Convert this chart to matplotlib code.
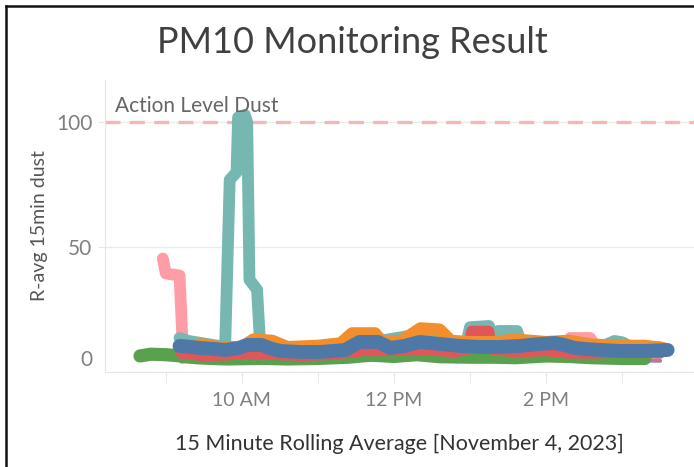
import numpy as np
import matplotlib.pyplot as plt
from matplotlib.lines import Line2D
from matplotlib.transforms import ScaledTranslation

# time in hours of the day, values in R-avg 15min dust
purple_t = [9.2, 9.6, 10.0, 10.5, 11.0, 11.5, 12.0, 12.5, 13.0, 13.5, 14.0, 14.5, 15.0, 15.5]
purple_v = [4.3, 4.5, 4.6, 4.4, 4.6, 5.0, 5.6, 5.2, 5.0, 4.8, 5.0, 4.6, 4.8, 4.6]

yellow_t = [9.2, 9.6, 10.0, 10.5, 11.0, 11.5, 12.0, 12.3, 12.6, 13.0, 13.5, 14.0, 14.5, 15.0, 15.5]
yellow_v = [5.5, 5.6, 5.8, 5.6, 6.0, 6.5, 7.5, 8.5, 7.2, 7.0, 6.8, 7.0, 6.6, 6.5, 6.4]

green_t = [8.66, 8.8, 9.0, 9.2, 9.4, 9.6, 9.8, 10.0, 10.3, 10.6, 11.0, 11.4, 11.7, 12.0,
           12.3, 12.6, 13.0, 13.3, 13.6, 14.0, 14.3, 14.6, 15.0, 15.3]
green_v = [6.5, 7.2, 7.0, 6.5, 5.8, 5.5, 5.3, 5.4, 5.5, 5.3, 5.5, 6.0, 6.8, 6.3,
           7.0, 6.2, 6.0, 6.0, 5.8, 6.5, 6.3, 5.8, 5.5, 5.5]

pink_t = [8.96, 9.0, 9.18, 9.22, 9.4, 9.7, 10.0, 10.5, 11.0, 11.5, 12.0, 12.5, 13.0, 13.5,
          14.0, 14.25, 14.32, 14.58, 14.65, 15.0, 15.5]
pink_v = [45.5, 39.5, 38.7, 12.0, 10.0, 8.5, 9.0, 8.5, 8.5, 9.5, 9.5, 10.0, 10.0, 10.0,
          10.5, 10.5, 13.7, 13.7, 10.5, 9.0, 9.0]

teal_t = [9.18, 9.3, 9.5, 9.7, 9.78, 9.84, 9.93, 9.95, 10.04, 10.07, 10.1, 10.2, 10.24,
          10.4, 10.7, 11.0, 11.3, 11.6, 11.9, 12.2, 12.5, 12.8, 12.95, 13.0, 13.25, 13.3,
          13.37, 13.62, 13.68, 14.0, 14.5, 14.75, 14.9, 15.0, 15.1, 15.5]
teal_v = [13.7, 12.5, 11.5, 10.5, 10.0, 77.0, 80.0, 102.0, 103.0, 100.0, 37.0, 33.0, 11.0,
          10.5, 9.5, 9.5, 10.5, 11.0, 13.0, 14.5, 13.0, 11.0, 11.0, 18.0, 18.5, 14.0,
          16.5, 16.5, 11.0, 10.5, 10.0, 10.5, 12.5, 12.0, 10.5, 10.0]

red_t = [9.2, 9.5, 9.8, 10.1, 10.4, 10.8, 11.2, 11.6, 12.0, 12.4, 12.8, 12.97, 13.02,
         13.25, 13.3, 13.6, 14.0, 14.3, 14.7, 15.0, 15.5]
red_v = [7.5, 6.5, 6.8, 7.5, 7.0, 6.5, 7.0, 8.5, 8.5, 9.0, 8.0, 9.0, 16.5,
         16.5, 9.0, 8.0, 8.5, 7.5, 7.5, 8.0, 7.5]

orange_t = [9.2, 9.5, 9.7, 10.0, 10.15, 10.4, 10.6, 11.0, 11.3, 11.45, 11.75, 11.85, 12.1,
            12.35, 12.6, 12.75, 13.0, 13.3, 13.6, 14.0, 14.3, 14.6, 15.0, 15.3, 15.55]
orange_v = [10.5, 11.0, 10.0, 10.0, 13.0, 12.5, 10.0, 10.5, 11.5, 15.5, 15.5, 12.0, 12.5,
            17.5, 17.0, 12.5, 12.0, 12.0, 13.0, 12.0, 12.5, 11.0, 10.5, 10.5, 9.5]

blue_t = [9.18, 9.3, 9.45, 9.6, 9.78, 9.95, 10.07, 10.26, 10.38, 10.5, 10.76, 11.03, 11.2,
          11.36, 11.45, 11.55, 11.79, 11.88, 11.95, 12.14, 12.34, 12.6, 12.87, 13.13, 13.39,
          13.66, 13.82, 13.92, 14.12, 14.25, 14.38, 14.55, 14.71, 14.97, 15.3, 15.6]
blue_v = [10.5, 10.2, 9.7, 9.4, 8.9, 9.6, 10.9, 10.9, 9.5, 8.5, 8.1, 8.1, 8.5,
          8.9, 10.5, 12.1, 12.1, 10.8, 9.7, 10.5, 12.1, 11.3, 10.5, 10.1, 10.1,
          10.5, 11.0, 11.3, 11.7, 10.8, 9.7, 9.2, 8.9, 8.5, 8.5, 8.9]

action_level = 100
hour_ticks = [10, 12, 14]
hour_labels = ['10 AM', '12 PM', '2 PM']

series = [
    (purple_t, purple_v, '#B07AA1', 3),
    (yellow_t, yellow_v, '#EDC948', 3),
    (green_t, green_v, '#59A14F', 9.5),
    (pink_t, pink_v, '#FF9DA7', 8.5),
    (teal_t, teal_v, '#76B7B2', 8.5),
    (red_t, red_v, '#E15759', 7.5),
    (orange_t, orange_v, '#F28E2B', 9),
    (blue_t, blue_v, '#4E79A7', 10),
]

plt.rcParams['font.family'] = ['Lato', 'DejaVu Sans']

fig = plt.figure(figsize=(6.94, 4.67), dpi=100)
ax = fig.add_axes([0.151, 0.203, 0.849, 0.626])

for t, v, c, w in series:
    ax.plot(t, v, color=c, lw=w, solid_capstyle='round', solid_joinstyle='round')

ax.axhline(action_level, color='#F2B8B8', lw=2.4, dashes=(4.5, 2.8), zorder=1.5)
ax.text(8.33, 102.5, 'Action Level Dust', color='#666666', fontsize=15, va='bottom')

ax.set_xlim(8.197, 15.947)
ax.set_ylim(0, 117)
ax.set_yticks([0, 50, 100])
ax.set_xticks(hour_ticks)
ax.set_xticklabels(hour_labels)
ax.set_xticks(range(9, 16), minor=True)
ax.grid(axis='y', color='#EBEBEB', lw=1)
ax.set_axisbelow(True)

for s in ['top', 'right']:
    ax.spines[s].set_visible(False)
ax.spines['left'].set_color('#E6E6E6')
ax.spines['bottom'].set_color('#E6E6E6')
ax.tick_params(axis='y', colors='#E6E6E6', labelcolor='#808080', labelsize=15, length=5, pad=4)
ax.tick_params(axis='x', which='both', colors='#E6E6E6', labelcolor='#808080', labelsize=14,
               length=8, pad=6)
ax.yaxis.get_major_ticks()[0].tick1line.set_visible(False)
lab0 = ax.get_yticklabels()[0]
lab0.set_transform(lab0.get_transform() + ScaledTranslation(0, 0.14, fig.dpi_scale_trans))

ax.set_ylabel('R-avg 15min dust', fontsize=14, color='#555555', labelpad=6)
ax.set_xlabel('15 Minute Rolling Average [November 4, 2023]', fontsize=15.5, color='#333333',
              labelpad=18)
fig.text(0.508, 0.908, 'PM10 Monitoring Result', ha='center', va='center', fontsize=26,
         color='#404040')

fig.add_artist(Line2D([0.009, 0.009], [0, 0.987], color='#111111', lw=1.8))
fig.add_artist(Line2D([0.009, 1.0], [0.987, 0.987], color='#111111', lw=1.8))

fig.savefig('out.png', dpi=100)
